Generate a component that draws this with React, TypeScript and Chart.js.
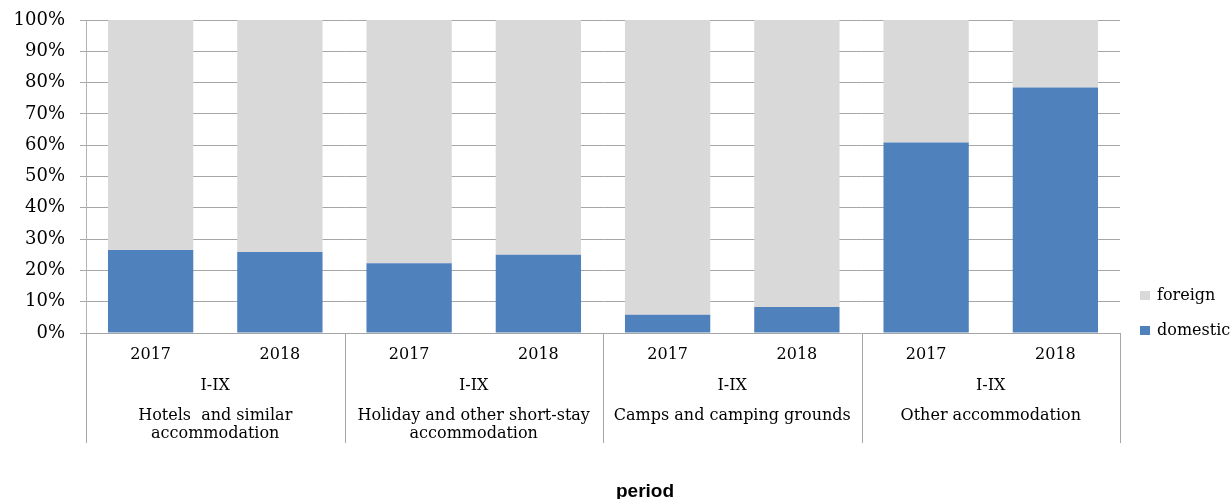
import React, { useEffect, useRef } from 'react';
import { Chart, registerables } from 'chart.js';

Chart.register(...registerables);

const categories = ['2017', '2018', '2017', '2018', '2017', '2018', '2017', '2018'];
const periodLabels = ['I-IX', 'I-IX', 'I-IX', 'I-IX'];
const groupLabels = [
  ['Hotels  and similar', 'accommodation'],
  ['Holiday and other short-stay', 'accommodation'],
  ['Camps and camping grounds'],
  ['Other accommodation'],
];
const domestic = [26.5, 25.9, 22.3, 25.0, 5.8, 8.3, 60.9, 78.4];
const foreign = [73.5, 74.1, 77.7, 75.0, 94.2, 91.7, 39.1, 21.6];
const yMax = 100;
const yStep = 10;
const axisTitle = 'period';

const SERIF = '"DejaVu Serif", serif';

const groupPlugin = {
  id: 'groupLabels',
  afterDraw(chart: any) {
    const ctx = chart.ctx;
    const x = chart.scales.x;
    const area = chart.chartArea;
    const half = (x.getPixelForValue(1) - x.getPixelForValue(0)) / 2;
    ctx.save();
    // separators
    ctx.strokeStyle = '#a6a6a6';
    ctx.lineWidth = 1;
    for (let g = 0; g <= groupLabels.length; g++) {
      const px = g < groupLabels.length
        ? x.getPixelForValue(g * 2) - half
        : x.getPixelForValue(g * 2 - 1) + half;
      const xx = Math.round(px) + 0.5;
      ctx.beginPath();
      ctx.moveTo(xx, area.bottom);
      ctx.lineTo(xx, area.bottom + 110);
      ctx.stroke();
    }
    // labels
    ctx.fillStyle = '#000';
    ctx.font = `16px ${SERIF}`;
    ctx.textAlign = 'center';
    ctx.textBaseline = 'middle';
    groupLabels.forEach((lines, g) => {
      const cx = (x.getPixelForValue(g * 2) + x.getPixelForValue(g * 2 + 1)) / 2;
      ctx.fillText(periodLabels[g], cx, area.bottom + 53);
      lines.forEach((ln, i) => {
        ctx.fillText(ln, cx, area.bottom + 83 + i * 18);
      });
    });
    // axis title
    ctx.font = 'bold 19px "Liberation Sans", sans-serif';
    ctx.textBaseline = 'alphabetic';
    ctx.fillText(axisTitle, 645, 497);
    // legend (reverse order)
    const ds = chart.data.datasets.slice().reverse();
    ctx.font = `16px ${SERIF}`;
    ctx.textAlign = 'left';
    ctx.textBaseline = 'middle';
    ds.forEach((d: any, i: number) => {
      const cy = 296 + i * 35;
      ctx.fillStyle = d.backgroundColor;
      ctx.fillRect(area.right + 20, cy - 5, 10, 9);
      ctx.fillStyle = '#000';
      ctx.fillText(d.label, area.right + 37, cy);
    });
    ctx.restore();
  },
};

export default function App() {
  const ref = useRef<HTMLCanvasElement>(null);
  useEffect(() => {
    if (!ref.current) return;
    const chart = new Chart(ref.current, {
      type: 'bar',
      data: {
        labels: categories,
        datasets: [
          { label: 'domestic', data: domestic, backgroundColor: '#4F81BD', barPercentage: 0.66, categoryPercentage: 1 },
          { label: 'foreign', data: foreign, backgroundColor: '#D9D9D9', barPercentage: 0.66, categoryPercentage: 1 },
        ],
      },
      options: {
        animation: false,
        responsive: false,
        devicePixelRatio: 1,
        layout: { padding: { top: 20, right: 111, left: 0, bottom: 0 } },
        plugins: { legend: { display: false }, tooltip: { enabled: false } },
        scales: {
          x: {
            stacked: true,
            grid: { display: false, drawTicks: false },
            border: { display: false },
            ticks: {
              font: { family: SERIF, size: 16 },
              color: '#000',
              padding: 12,
              maxRotation: 0,
              autoSkip: false,
            },
            afterFit: (s: any) => { s.height = 166; },
          },
          y: {
            stacked: true,
            min: 0,
            max: yMax,
            ticks: {
              stepSize: yStep,
              callback: (v: any) => v + '%',
              font: { family: SERIF, size: 18 },
              color: '#000',
              padding: 15,
            },
            grid: { color: '#a6a6a6', tickLength: 6 },
            border: { color: '#b3b3b3' },
            afterFit: (s: any) => { s.width = 86; s.paddingTop = 0; s.paddingBottom = 0; },
          },
        },
      },
      plugins: [groupPlugin],
    });
    return () => chart.destroy();
  }, []);
  return (
    <div style={{ position: 'absolute', left: 0, top: 0, width: 1231, height: 499, background: '#fff' }}>
      <canvas ref={ref} width={1231} height={499} />
    </div>
  );
}
